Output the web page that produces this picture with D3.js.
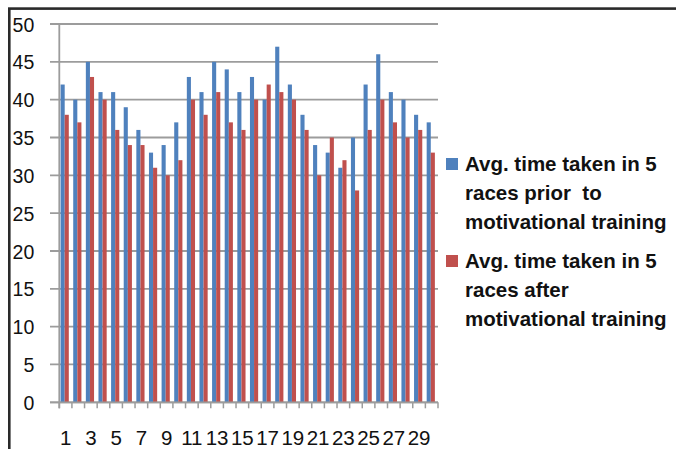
<!DOCTYPE html>
<html>
<head>
<meta charset="utf-8">
<script src="https://cdn.jsdelivr.net/npm/d3@7"></script>
<style>
  html, body { margin: 0; padding: 0; background: #fff; }
  svg { display: block; }
  text { font-family: "Liberation Sans", Arial, sans-serif; fill: #111; }
</style>
</head>
<body>
<svg id="chart" width="676" height="449"></svg>
<script>
// Runners 1..30: average race time before and after motivational training
const categories = d3.range(1, 31);
const priorTimes = [42, 40, 45, 41, 41, 39, 36, 33, 34, 37, 43, 41, 45, 44, 41,
                    43, 40, 47, 42, 38, 34, 33, 31, 35, 42, 46, 41, 40, 38, 37];
const afterTimes = [38, 37, 43, 40, 36, 34, 34, 31, 30, 32, 40, 38, 41, 37, 36,
                    40, 42, 41, 40, 36, 30, 35, 32, 28, 36, 40, 37, 35, 36, 33];
const yTicks = [0, 5, 10, 15, 20, 25, 30, 35, 40, 45, 50];
const xTickLabels = categories.filter(c => c % 2 === 1);
const seriesNames = ["prior", "after"];
const seriesColors = { prior: "#4f81bd", after: "#c0504d" };
const legendLines = {
  prior: ["Avg. time taken in 5", "races prior  to", "motivational training"],
  after: ["Avg. time taken in 5", "races after", "motivational training"]
};

const svg = d3.select("#chart");

// outer frame (top and left edges visible)
svg.append("rect")
  .attr("x", 9.3).attr("y", 8.6)
  .attr("width", 700).attr("height", 500)
  .attr("fill", "none")
  .attr("stroke", "#2a2a2a")
  .attr("stroke-width", 2.6);

const plot = { left: 59.3, right: 438, top: 24, bottom: 402.3 };

const y = d3.scaleLinear().domain([0, 50]).range([plot.bottom, plot.top]);
const x0 = d3.scaleBand().domain(categories).range([plot.left, plot.right]).padding(0);
const x1 = d3.scaleBand().domain(seriesNames).range([1.3, 9.5]).padding(0);

// horizontal gridlines
svg.append("g")
  .selectAll("line")
  .data(yTicks)
  .join("line")
  .attr("x1", 50).attr("x2", plot.right)
  .attr("y1", d => y(d)).attr("y2", d => y(d))
  .attr("stroke", "#9c9c9c")
  .attr("stroke-width", 1.8);

// y axis labels
const yAxis = d3.axisLeft(y).tickValues(yTicks).tickSize(0).tickPadding(25);
const yg = svg.append("g")
  .attr("transform", `translate(${plot.left},0)`)
  .call(yAxis);
yg.select(".domain").remove();
yg.selectAll("text")
  .style("font-family", '"Liberation Sans", Arial, sans-serif')
  .style("font-size", "19.5px")
  .attr("fill", "#111")
  .attr("dy", "0.36em");

// y axis line
svg.append("line")
  .attr("x1", plot.left).attr("x2", plot.left)
  .attr("y1", plot.top).attr("y2", plot.bottom + 6)
  .attr("stroke", "#9c9c9c").attr("stroke-width", 1.8);

// bars
const rows = categories.map((c, i) => ({ cat: c, prior: priorTimes[i], after: afterTimes[i] }));
const groups = svg.append("g")
  .selectAll("g")
  .data(rows)
  .join("g")
  .attr("transform", d => `translate(${x0(d.cat)},0)`);
groups.selectAll("rect")
  .data(d => seriesNames.map(s => ({ s, v: d[s] })))
  .join("rect")
  .attr("x", d => x1(d.s))
  .attr("width", x1.bandwidth())
  .attr("y", d => y(d.v))
  .attr("height", d => y(0) - y(d.v))
  .attr("fill", d => seriesColors[d.s]);

// x axis with tick marks at category boundaries
svg.append("line")
  .attr("x1", 50).attr("x2", plot.right)
  .attr("y1", plot.bottom).attr("y2", plot.bottom)
  .attr("stroke", "#9c9c9c").attr("stroke-width", 1.8);
svg.append("g")
  .selectAll("line")
  .data(categories.concat([categories.length + 1]))
  .join("line")
  .attr("x1", d => d <= categories.length ? x0(d) : plot.right)
  .attr("x2", d => d <= categories.length ? x0(d) : plot.right)
  .attr("y1", plot.bottom).attr("y2", plot.bottom + 6)
  .attr("stroke", "#9c9c9c").attr("stroke-width", 1.5);

const xAxis = d3.axisBottom(x0).tickValues(xTickLabels).tickSize(0).tickPadding(28);
const xg = svg.append("g")
  .attr("transform", `translate(0,${plot.bottom})`)
  .call(xAxis);
xg.select(".domain").remove();
xg.selectAll("text")
  .style("font-family", '"Liberation Sans", Arial, sans-serif')
  .style("font-size", "20.5px")
  .attr("fill", "#111");

// legend
const legendTop = { prior: 171, after: 268 };
const legend = svg.append("g");
seriesNames.forEach(s => {
  const g = legend.append("g");
  g.append("rect")
    .attr("x", 446).attr("y", legendTop[s] - 13)
    .attr("width", 12).attr("height", 12)
    .attr("fill", seriesColors[s]);
  g.selectAll("text")
    .data(legendLines[s])
    .join("text")
    .attr("x", 465)
    .attr("y", (d, i) => legendTop[s] + i * 29)
    .style("font-size", "20.5px")
    .style("font-weight", "bold")
    .style("white-space", "pre")
    .text(d => d);
});
</script>
</body>
</html>
